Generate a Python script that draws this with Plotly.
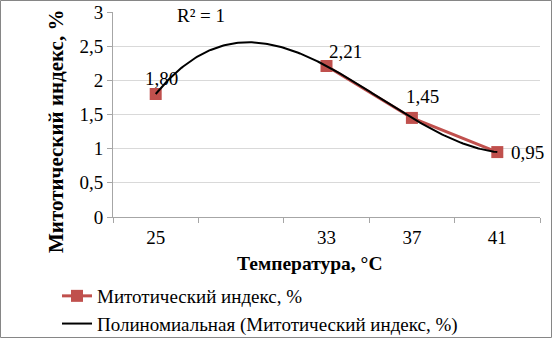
import numpy as np
import plotly.graph_objects as go

# Temperature categories (second slot has no measurement)
categories = ["25", "", "33", "37", "41"]
mitotic_index = [1.80, None, 2.21, 1.45, 0.95]

series_name = "Митотический индекс, %"
trend_name = "Полиномиальная (Митотический индекс, %)"
x_title = "Температура, °C"
y_title = "Митотический индекс, %"

FONT = "Liberation Serif, Times New Roman, serif"
FS = 19
RED = "#c0504d"
W, H = 553, 339
L, R, T, B = 113, 13, 12, 122

pos = list(range(1, len(categories) + 1))
px_ = [p for p, v in zip(pos, mitotic_index) if v is not None]
py_ = [v for v in mitotic_index if v is not None]

# Cubic trendline over category index (4 points -> exact fit, R^2 = 1)
coef = np.polyfit(px_, py_, 3)
xt = np.linspace(min(px_), max(px_), 200)
yt = np.polyval(coef, xt)
resid = np.array(py_) - np.polyval(coef, px_)
r2 = 1 - np.sum(resid ** 2) / np.sum((np.array(py_) - np.mean(py_)) ** 2)

fig = go.Figure()
fig.add_trace(go.Scatter(
    x=pos, y=mitotic_index, mode="lines+markers", name=series_name,
    line=dict(color=RED, width=3), connectgaps=False,
    marker=dict(symbol="square", size=12, color=RED),
))
fig.add_trace(go.Scatter(
    x=xt, y=yt, mode="lines", name=trend_name,
    line=dict(color="black", width=2),
))

# Value labels
label_offsets = {0: (6, 16, "center"), 2: (0, 14, "left"), 3: (11, 21, "center"), 4: (12, 0, "left")}
for i, (p, v) in enumerate(zip(pos, mitotic_index)):
    if v is None:
        continue
    dx, dy, anchor = label_offsets[i]
    fig.add_annotation(
        x=p, y=v, text=f"{v:.2f}".replace(".", ","), showarrow=False,
        xanchor=anchor, yanchor="middle", xshift=dx, yshift=dy,
        font=dict(family=FONT, size=FS, color="black"),
    )

pw, ph = W - L - R, H - T - B


def px_to_paper(x_px, y_px):
    return (x_px - L) / pw, (T + ph - y_px) / ph


rx, ry = px_to_paper(201, 15)
fig.add_annotation(
    x=rx, y=ry, xref="paper", yref="paper", text=f"R² = {r2:.0f}", showarrow=False,
    xanchor="center", yanchor="middle", font=dict(family=FONT, size=FS, color="black"),
)

# Axis titles
tx, ty = px_to_paper(309, 263)
fig.add_annotation(
    x=tx, y=ty, xref="paper", yref="paper", text=f"<b>{x_title}</b>", showarrow=False,
    xanchor="center", yanchor="middle", font=dict(family=FONT, size=19.5, color="black"),
)
tx, ty = px_to_paper(56, 132)
fig.add_annotation(
    x=tx, y=ty, xref="paper", yref="paper", text=f"<b>{y_title}</b>", showarrow=False,
    textangle=-90, xanchor="center", yanchor="middle",
    font=dict(family=FONT, size=21, color="black"),
)

# Outer frame of the chart
fig.add_shape(
    type="rect", xref="paper", yref="paper",
    x0=(0.5 - L) / pw, x1=(W - 1.5 - L) / pw,
    y0=-(B - 1.5) / ph, y1=1 + (T - 0.5) / ph,
    line=dict(color="#868686", width=1), layer="below",
)

lx, ly = px_to_paper(57, 277)
fig.update_layout(
    width=W, height=H,
    margin=dict(l=L, r=R, t=T, b=B, autoexpand=False),
    paper_bgcolor="white", plot_bgcolor="white",
    separators=", ",
    font=dict(family=FONT, size=FS, color="black"),
    showlegend=True,
    legend=dict(
        x=lx, y=ly, xanchor="left", yanchor="top", orientation="v",
        font=dict(family=FONT, size=FS, color="black"),
        bgcolor="rgba(0,0,0,0)", itemwidth=30, tracegroupgap=0,
    ),
    xaxis=dict(
        range=[0.5, len(categories) + 0.5], tickvals=pos, ticktext=categories,
        showgrid=False, zeroline=False, showline=True, linecolor="#a6a6a6", linewidth=1,
        ticks="", tickfont=dict(family=FONT, size=FS), ticklabelstandoff=3,
        minor=dict(tickvals=[p - 0.5 for p in pos] + [pos[-1] + 0.5], ticks="outside",
                   ticklen=5, tickcolor="#a6a6a6", showgrid=False),
        fixedrange=True,
    ),
    yaxis=dict(
        range=[0, 3], dtick=0.5, showgrid=True, gridcolor="#d9d9d9", gridwidth=1,
        zeroline=False, showline=True, linecolor="#a6a6a6", linewidth=1,
        ticks="outside", ticklen=5, tickcolor="#a6a6a6",
        tickfont=dict(family=FONT, size=FS),
        fixedrange=True,
    ),
)

fig.write_html("out.html")
